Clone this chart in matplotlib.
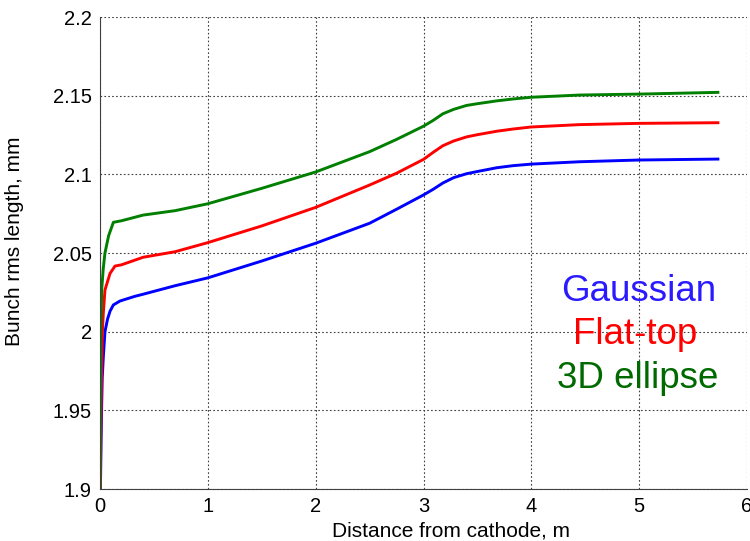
import numpy as np
import matplotlib.pyplot as plt

plt.rcParams['font.family'] = ['Liberation Sans', 'DejaVu Sans']

# distance from cathode (m) and rms bunch length (mm)
x_gauss = [0.0, 0.01, 0.016, 0.021, 0.031, 0.046, 0.07, 0.093, 0.124, 0.186, 0.325, 0.4,
           0.696, 1.0, 1.5, 2.0, 2.5, 2.75, 3.0, 3.09, 3.18, 3.28, 3.4, 3.5, 3.68, 3.83,
           4.0, 4.45, 5.0, 5.73]
y_gauss = [1.88, 1.93, 1.955, 1.971, 1.984, 2.000, 2.008, 2.013, 2.017, 2.0195, 2.0225, 2.0238,
           2.0292, 2.0342, 2.0449, 2.0562, 2.0689, 2.0778, 2.0869, 2.0905, 2.0945, 2.0979, 2.1004,
           2.1018, 2.1042, 2.1055, 2.1065, 2.108, 2.1091, 2.1097]

x_flat = [0.0, 0.008, 0.015, 0.022, 0.031, 0.046, 0.093, 0.139, 0.2, 0.4, 0.696, 1.0,
          1.5, 2.0, 2.5, 2.75, 3.0, 3.09, 3.18, 3.28, 3.4, 3.5, 3.68, 3.83, 4.0, 4.45, 5.0, 5.73]
y_flat = [1.88, 1.94, 1.975, 2.0, 2.012, 2.0265, 2.037, 2.0417, 2.0425, 2.0473, 2.0508, 2.0566,
          2.0672, 2.079, 2.0932, 2.1007, 2.1095, 2.114, 2.1182, 2.1212, 2.1238, 2.1252, 2.1274,
          2.1288, 2.1301, 2.1316, 2.1324, 2.1328]

x_ell = [0.0, 0.004, 0.007, 0.016, 0.03, 0.046, 0.08, 0.124, 0.2, 0.4, 0.696, 1.0,
         1.5, 2.0, 2.5, 2.75, 3.0, 3.09, 3.18, 3.28, 3.4, 3.5, 3.68, 3.83, 4.0, 4.45, 5.0, 5.73]
y_ell = [1.88, 1.96, 2.0, 2.027, 2.04, 2.05, 2.061, 2.0695, 2.0705, 2.0741, 2.0769, 2.0813,
         2.0911, 2.1015, 2.1144, 2.1222, 2.1306, 2.1343, 2.1385, 2.1413, 2.1438, 2.1449, 2.1467,
         2.1479, 2.149, 2.1504, 2.151, 2.1521]

xticks = [0, 1, 2, 3, 4, 5, 6]
yticks = [1.9, 1.95, 2.0, 2.05, 2.1, 2.15, 2.2]
ytick_labels = ['1.9', '1.95', '2', '2.05', '2.1', '2.15', '2.2']

fig = plt.figure(figsize=(7.5, 5.41), dpi=100)
ax = fig.add_axes([100/750, 1-489/541, 647/750, 472/541])

ax.plot(x_gauss, y_gauss, c='#0000ff', lw=2.1)
ax.plot(x_flat, y_flat, c='#ff0000', lw=2.1)
ax.plot(x_ell, y_ell, c='#007f00', lw=2.1)

ax.set_xlim(0, 6)
ax.set_ylim(1.9, 2.2)
ax.set_xticks(xticks)
ax.set_yticks(yticks)
ax.set_yticklabels(ytick_labels)
ax.grid(True, ls=(0, (1.5, 2)), c='#404040', lw=0.8)
ax.spines['top'].set_visible(False)
ax.spines['right'].set_visible(False)
for s in ['left', 'bottom']:
    ax.spines[s].set_color('#404040')
ax.tick_params(direction='in', length=0, labelsize=14.5, pad=6, colors='black')

ax.set_xlabel('Distance from cathode, m', fontsize=15)
ax.set_ylabel('Bunch rms length, mm', fontsize=15)
ax.xaxis.set_label_coords((450.8-100)/647, -(536.7-489)/472)
ax.yaxis.set_label_coords(-(100-24)/647, (489-241.7)/472)
ax.xaxis.label.set_va('baseline')

ax.text((638.3-100)/647, (489-300.7)/472, 'Gaussian', color='#2a1aff', fontsize=26.5,
        ha='center', va='baseline', transform=ax.transAxes)
ax.text((634.7-100)/647, (489-344)/472, 'Flat-top', color='#ff0000', fontsize=26.5,
        ha='center', va='baseline', transform=ax.transAxes)
ax.text((638-100)/647, (489-388.3)/472, '3D ellipse', color='#006a00', fontsize=26.5,
        ha='center', va='baseline', transform=ax.transAxes)

fig.savefig('out.png', dpi=100)
